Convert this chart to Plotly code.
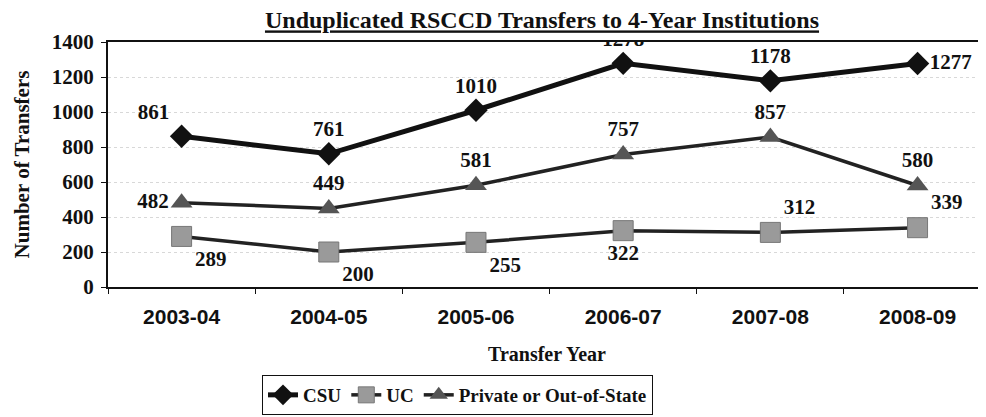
import plotly.graph_objects as go

years = ["2003-04", "2004-05", "2005-06", "2006-07", "2007-08", "2008-09"]
csu = [861, 761, 1010, 1278, 1178, 1277]
uc = [289, 200, 255, 322, 312, 339]
private = [482, 449, 581, 757, 857, 580]

csu_pos = ["top left", "top center", "top center", "top center", "top center", "middle right"]
uc_pos = ["bottom right", "bottom right", "bottom right", "bottom center", "top right", "top right"]
pr_pos = ["middle left", "top center", "top center", "top center", "top center", "top center"]

serif = "Liberation Serif"
lab_font = dict(family=serif, size=21, color="#111", weight="bold")

W, H = 978, 409  # page has an 8px body margin

fig = go.Figure()
fig.add_trace(go.Scatter(
    x=years, y=csu, name="CSU", mode="lines+markers+text",
    line=dict(color="#111", width=5),
    marker=dict(symbol="diamond", size=18, color="#111"),
    text=[str(v) for v in csu], textposition=csu_pos, textfont=lab_font,
))
fig.add_trace(go.Scatter(
    x=years, y=uc, name="UC", mode="lines+markers+text",
    line=dict(color="#222", width=3.5),
    marker=dict(symbol="square", size=20, color="#9a9a9a", line=dict(color="#777", width=1)),
    text=[str(v) for v in uc], textposition=uc_pos, textfont=lab_font,
))
fig.add_trace(go.Scatter(
    x=years, y=private, name="Private or Out-of-State", mode="lines+markers+text",
    line=dict(color="#222", width=3.5),
    marker=dict(symbol="triangle-up", size=19, color="#555"),
    text=[str(v) for v in private], textposition=pr_pos, textfont=lab_font,
))

fig.update_layout(
    width=W, height=H,
    margin=dict(l=100, r=0, t=34, b=130, autoexpand=False),
    paper_bgcolor="white", plot_bgcolor="white",
    title=dict(text="<b><u>Unduplicated RSCCD Transfers to 4-Year Institutions</u></b>",
               x=534/W, xanchor="center", y=1-12/H, yanchor="middle",
               font=dict(family=serif, size=24, color="#111")),
    legend=dict(orientation="h", xref="container", yref="container",
                x=254/W, xanchor="left", y=1-387/H, yanchor="middle",
                bordercolor="#111", borderwidth=1, bgcolor="white",
                font=dict(family=serif, size=19, color="#111", weight="bold"),
                tracegroupgap=0),
    showlegend=True,
)
fig.update_xaxes(
    type="category", automargin=False,
    range=[-0.5, 5.465], showline=True, linecolor="#111", linewidth=2, mirror=True,
    ticks="outside", tickson="boundaries", ticklen=5, tickcolor="#111",
    ticklabelstandoff=10,
    showgrid=False,
    tickfont=dict(family="Liberation Sans", size=21, color="#111", weight="bold"),
    title=dict(text="<b>Transfer Year</b>", font=dict(family=serif, size=20, color="#111"), standoff=20),
)
fig.update_yaxes(
    automargin=False,
    range=[0, 1400], dtick=200, showline=True, linecolor="#111", linewidth=2,
    ticks="outside", ticklen=5, tickcolor="#111", ticklabelstandoff=3,
    showgrid=True, gridcolor="#d8d8d8", griddash="dot", gridwidth=1,
    zeroline=False,
    tickfont=dict(family=serif, size=21, color="#111", weight="bold"),
    title=dict(text="<b>Number of Transfers</b>", font=dict(family=serif, size=21, color="#111"), standoff=16),
)

fig.write_html("out.html")
